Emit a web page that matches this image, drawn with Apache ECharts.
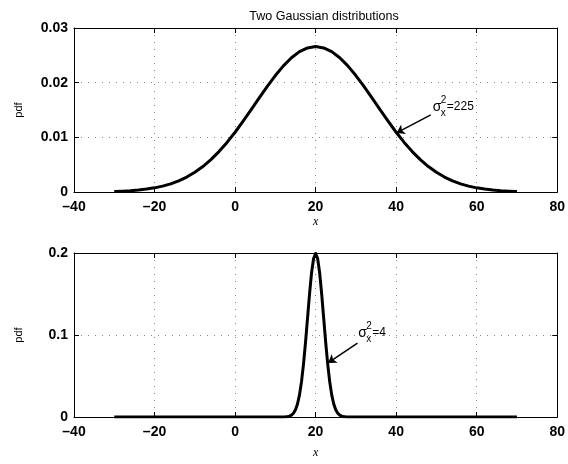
<!DOCTYPE html>
<html>
<head>
<meta charset="utf-8">
<script src="https://cdn.jsdelivr.net/npm/echarts@6/dist/echarts.min.js"></script>
<style>html,body{margin:0;padding:0;background:#fff;}#c{width:568px;height:464px;}</style>
</head>
<body>
<div id="c"></div>
<script>
// ---- data ----
const xTop = [-30,-28,-26,-24,-22,-20,-18,-16,-14,-12,-10,-8,-6,-4,-2,0,2,4,6,8,10,12,14,16,18,20,
  22,24,26,28,30,32,34,36,38,40,42,44,46,48,50,52,54,56,58,60,62,64,66,68,70];
const yTop = [0.00010,0.00016,0.00024,0.00036,0.00053,0.00076,0.00107,0.00149,0.00204,0.00273,0.00360,
  0.00466,0.00592,0.00739,0.00907,0.01093,0.01295,0.01506,0.01720,0.01931,0.02130,0.02307,0.02455,0.02567,0.02636,0.02660,
  0.02636,0.02567,0.02455,0.02307,0.02130,0.01931,0.01720,0.01506,0.01295,0.01093,0.00907,0.00739,0.00592,0.00466,0.00360,
  0.00273,0.00204,0.00149,0.00107,0.00076,0.00053,0.00036,0.00024,0.00016,0.00010];
const xBot = [-30,10,12,12.5,13,13.5,14,14.5,15,15.5,16,16.5,17,17.5,18,18.5,19,19.5,20,
  20.5,21,21.5,22,22.5,23,23.5,24,24.5,25,25.5,26,26.5,27,27.5,28,30,70];
const yBot = [0,0,0.00007,0.00018,0.00044,0.00101,0.00222,0.00455,0.00876,0.01587,0.02700,0.04314,0.06476,0.09132,0.12099,0.15057,0.17603,0.19333,0.19947,
  0.19333,0.17603,0.15057,0.12099,0.09132,0.06476,0.04314,0.02700,0.01587,0.00876,0.00455,0.00222,0.00101,0.00044,0.00018,0.00007,0,0];
const xTicks = [-40,-20,0,20,40,60,80];
const yTicksTop = [0,0.01,0.02,0.03];
const yTicksBot = [0,0.1,0.2];
const titleText = 'Two Gaussian distributions';
const labelTop = '=225';
const labelBot = '=4';

const FONT = 'Liberation Sans, Arial, Helvetica, sans-serif';
const pairs = (xs, ys) => xs.map((x, i) => [x, ys[i]]);

function xAx(grid, pos, show) {
  return {
    type: 'value', gridIndex: grid, position: pos,
    min: xTicks[0], max: xTicks[xTicks.length - 1], interval: xTicks[1] - xTicks[0],
    axisLine: {show: true, onZero: false, lineStyle: {color: '#000', width: 1}},
    axisTick: {show: true, inside: true, length: 5, lineStyle: {color: '#000'}},
    axisLabel: {show: show, color: '#000', fontFamily: FONT, fontWeight: 'bold', fontSize: 14, margin: 8,
      formatter: v => String(v).replace('-', '\u2013')},
    splitLine: {show: show, lineStyle: {color: '#888', width: 1, type: [1, 6]}},
    name: show ? 'x' : '', nameLocation: 'middle', nameGap: grid === 0 ? 24 : 30,
    nameTextStyle: {fontFamily: 'Liberation Serif, Times New Roman, serif', fontStyle: 'italic', fontSize: 12, color: '#000'}
  };
}
function yAx(grid, pos, show, ticks) {
  return {
    type: 'value', gridIndex: grid, position: pos,
    min: ticks[0], max: ticks[ticks.length - 1], interval: ticks[1] - ticks[0],
    axisLine: {show: true, onZero: false, lineStyle: {color: '#000', width: 1}},
    axisTick: {show: true, inside: true, length: 5, lineStyle: {color: '#000'}},
    axisLabel: {show: show, color: '#000', fontFamily: FONT, fontWeight: 'bold', fontSize: 14, margin: 6},
    splitLine: {show: show, lineStyle: {color: '#888', width: 1, type: [1, 6]}},
    name: show ? 'pdf' : '', nameLocation: 'middle', nameGap: 50,
    nameTextStyle: {fontFamily: FONT, fontSize: 11, color: '#000'}
  };
}
function sigmaMarks(coord, eqText) {
  const base = {show: true, position: 'right', distance: 0, color: '#000', fontFamily: FONT};
  return {
    symbol: 'circle', symbolSize: 0, silent: true,
    data: [
      {coord: coord, label: Object.assign({}, base, {formatter: 'σ', fontSize: 14, offset: [0, 0]})},
      {coord: coord, label: Object.assign({}, base, {formatter: '2', fontSize: 10, offset: [8, -7]})},
      {coord: coord, label: Object.assign({}, base, {formatter: 'x', fontSize: 10, offset: [8, 6]})},
      {coord: coord, label: Object.assign({}, base, {formatter: eqText, fontSize: 12, offset: [14, 0]})}
    ]
  };
}
function arrow(from, to) {
  return {
    silent: true, symbol: ['none', 'arrow'], symbolSize: 8,
    lineStyle: {color: '#000', width: 1.5, type: 'solid'},
    label: {show: false},
    data: [[{coord: from}, {coord: to}]]
  };
}

const chart = echarts.init(document.getElementById('c'), null, {renderer: 'canvas'});
chart.setOption({
  animation: false,
  backgroundColor: '#fff',
  title: {text: titleText, left: 319, textAlign: 'center', top: 5,
    textStyle: {fontFamily: FONT, fontWeight: 'normal', fontSize: 12.5, color: '#000'}},
  grid: [
    {left: 74, top: 28, width: 486, height: 164},
    {left: 74, top: 253, width: 486, height: 164}
  ],
  xAxis: [xAx(0, 'bottom', true), xAx(0, 'top', false), xAx(1, 'bottom', true), xAx(1, 'top', false)],
  yAxis: [yAx(0, 'left', true, yTicksTop), yAx(0, 'right', false, yTicksTop),
          yAx(1, 'left', true, yTicksBot), yAx(1, 'right', false, yTicksBot)],
  series: [
    {type: 'line', xAxisIndex: 0, yAxisIndex: 0, data: pairs(xTop, yTop), showSymbol: false,
     smooth: false, lineStyle: {color: '#000', width: 3, join: 'round'},
     markLine: arrow([48.6, 0.0141], [40.1, 0.0108]),
     markPoint: sigmaMarks([49.1, 0.01555], labelTop)},
    {type: 'line', xAxisIndex: 2, yAxisIndex: 2, data: pairs(xBot, yBot), showSymbol: false,
     smooth: false, lineStyle: {color: '#000', width: 3, join: 'round'},
     markLine: arrow([30.4, 0.0902], [23.1, 0.066]),
     markPoint: sigmaMarks([30.6, 0.1024], labelBot)}
  ]
});
</script>
</body>
</html>
